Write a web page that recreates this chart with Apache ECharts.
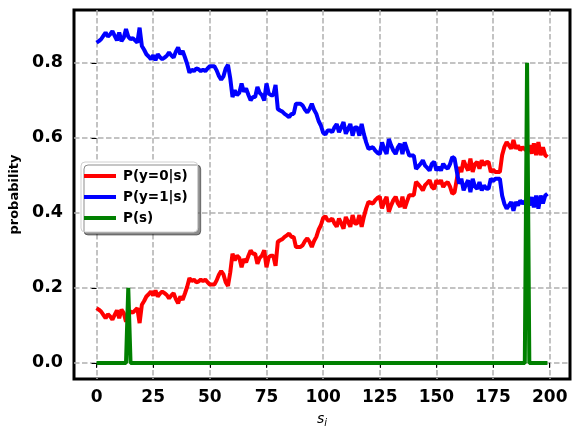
<!DOCTYPE html>
<html>
<head>
<meta charset="utf-8">
<script src="https://cdn.jsdelivr.net/npm/echarts@6/dist/echarts.min.js"></script>
<style>html,body{margin:0;padding:0;background:#fff}#c{width:579px;height:438px}</style>
</head>
<body>
<div id="c"></div>
<script>
const xTicks = [0, 25, 50, 75, 100, 125, 150, 175, 200];
const yTicks = [0.0, 0.2, 0.4, 0.6, 0.8];
const seriesNames = ['P(y=0|s)', 'P(y=1|s)', 'P(s)'];

const pY0 = [
  0.146,0.142,0.137,0.128,0.119,0.130,0.124,0.115,0.128,0.140,
  0.119,0.142,0.133,0.110,0.130,0.137,0.134,0.140,0.146,0.106,
  0.155,0.165,0.177,0.183,0.190,0.180,0.193,0.177,0.185,0.190,
  0.186,0.181,0.172,0.180,0.186,0.170,0.159,0.177,0.168,0.185,
  0.203,0.226,0.218,0.222,0.215,0.217,0.222,0.218,0.222,0.215,
  0.209,0.209,0.209,0.220,0.235,0.245,0.236,0.215,0.205,0.241,
  0.291,0.273,0.286,0.280,0.255,0.277,0.268,0.285,0.300,0.291,
  0.291,0.264,0.280,0.286,0.300,0.255,0.282,0.286,0.286,0.259,
  0.323,0.327,0.330,0.336,0.340,0.345,0.336,0.336,0.309,0.309,
  0.309,0.314,0.325,0.332,0.323,0.309,0.325,0.336,0.355,0.367,
  0.386,0.391,0.380,0.380,0.385,0.372,0.363,0.385,0.372,0.358,
  0.389,0.376,0.363,0.394,0.372,0.372,0.394,0.363,0.390,0.412,
  0.429,0.427,0.425,0.434,0.440,0.443,0.412,0.430,0.443,0.403,
  0.420,0.434,0.443,0.425,0.416,0.443,0.412,0.430,0.447,0.447,
  0.447,0.483,0.476,0.469,0.460,0.474,0.480,0.487,0.469,0.464,
  0.487,0.478,0.487,0.469,0.478,0.482,0.470,0.451,0.455,0.490,
  0.522,0.509,0.540,0.525,0.513,0.545,0.509,0.530,0.536,0.518,
  0.540,0.527,0.535,0.536,0.509,0.515,0.509,0.509,0.509,0.554,
  0.576,0.589,0.580,0.571,0.594,0.571,0.580,0.567,0.575,0.570,
  0.565,0.580,0.558,0.585,0.554,0.589,0.554,0.575,0.554,0.549
];

const pY1 = [
  0.854,0.858,0.863,0.872,0.881,0.870,0.876,0.885,0.872,0.860,
  0.881,0.858,0.867,0.890,0.870,0.863,0.866,0.860,0.854,0.894,
  0.845,0.835,0.823,0.817,0.810,0.820,0.807,0.823,0.815,0.810,
  0.814,0.819,0.828,0.820,0.814,0.830,0.841,0.823,0.832,0.815,
  0.797,0.774,0.782,0.778,0.785,0.783,0.778,0.782,0.778,0.785,
  0.791,0.791,0.791,0.780,0.765,0.755,0.764,0.785,0.795,0.759,
  0.709,0.727,0.714,0.720,0.745,0.723,0.732,0.715,0.700,0.709,
  0.709,0.736,0.720,0.714,0.700,0.745,0.718,0.714,0.714,0.741,
  0.677,0.673,0.670,0.664,0.660,0.655,0.664,0.664,0.691,0.691,
  0.691,0.686,0.675,0.668,0.677,0.691,0.675,0.664,0.645,0.633,
  0.614,0.609,0.620,0.620,0.615,0.628,0.637,0.615,0.628,0.642,
  0.611,0.624,0.637,0.606,0.628,0.628,0.606,0.637,0.610,0.588,
  0.571,0.573,0.575,0.566,0.560,0.557,0.588,0.570,0.557,0.597,
  0.580,0.566,0.557,0.575,0.584,0.557,0.588,0.570,0.553,0.553,
  0.553,0.517,0.524,0.531,0.540,0.526,0.520,0.513,0.531,0.536,
  0.513,0.522,0.513,0.531,0.522,0.518,0.530,0.549,0.545,0.510,
  0.478,0.491,0.460,0.475,0.487,0.455,0.491,0.470,0.464,0.482,
  0.460,0.473,0.465,0.464,0.491,0.485,0.491,0.491,0.491,0.446,
  0.424,0.411,0.420,0.429,0.406,0.429,0.420,0.433,0.425,0.430,
  0.435,0.420,0.442,0.415,0.446,0.411,0.446,0.425,0.446,0.451
];

// P(s): zero everywhere except two spikes
const pSIndex = [14, 190];
const pSValue = [0.2, 0.8];
const pSLength = 200;

const pS = [];
for (let i = 0; i < pSLength; i++) {
  const k = pSIndex.indexOf(i);
  pS.push([i, k >= 0 ? pSValue[k] : 0]);
}
const toPairs = arr => arr.map((v, i) => [i, v]);

const chart = echarts.init(document.getElementById('c'), null, {renderer: 'canvas'});
const FONT = 'DejaVu Sans';
const gridLine = {show: true, lineStyle: {color: '#b0b0b0', width: 1.5, type: [5.5, 2.5]}};
const LW = 4;

chart.setOption({
  animation: false,
  backgroundColor: '#fff',
  textStyle: {fontFamily: FONT},
  grid: {left: 74, top: 10, right: 9, bottom: 59, show: true, borderColor: '#000', borderWidth: 3, backgroundColor: 'transparent'},
  xAxis: {
    type: 'value', min: -9.95, max: 208.95,
    axisLine: {show: false},
    axisTick: {show: true, length: 5, customValues: xTicks, lineStyle: {color: '#000', width: 1}},
    axisLabel: {customValues: xTicks, margin: 10, color: '#000', fontFamily: FONT, fontWeight: 'bold', fontSize: 17},
    splitLine: gridLine,
    name: '{s|s}{i|i}', nameLocation: 'middle', nameGap: 31,
    nameTextStyle: {rich: {s: {fontStyle: 'italic', fontSize: 14, fontFamily: FONT, color: '#000'}, i: {fontStyle: 'italic', fontSize: 10, fontFamily: FONT, color: '#000', padding: [8, 0, 0, 0]}}}
  },
  yAxis: {
    type: 'value', min: -0.043, max: 0.941,
    axisLine: {show: false},
    axisTick: {show: true, length: 5, customValues: yTicks, lineStyle: {color: '#000', width: 1}},
    axisLabel: {customValues: yTicks, margin: 11, color: '#000', fontFamily: FONT, fontWeight: 'bold', fontSize: 17.5, formatter: v => v.toFixed(1)},
    splitLine: gridLine,
    name: 'probability', nameLocation: 'middle', nameGap: 52, nameRotate: 90,
    nameTextStyle: {color: '#000', fontFamily: FONT, fontWeight: 'bold', fontSize: 13}
  },
  legend: {
    orient: 'vertical', left: 81, top: 162,
    data: seriesNames,
    icon: 'rect',
    itemWidth: 32, itemHeight: 4, itemGap: 5,
    padding: [6, 10, 6, 3],
    backgroundColor: '#fff', borderColor: '#d0d0d0', borderWidth: 1, borderRadius: 4,
    shadowColor: 'rgba(0,0,0,0.45)', shadowBlur: 0, shadowOffsetX: 3, shadowOffsetY: 3,
    textStyle: {color: '#000', fontFamily: FONT, fontWeight: 'bold', fontSize: 13.5, lineHeight: 16, padding: [0, 0, 0, 2]}
  },
  series: [
    {name: seriesNames[0], type: 'line', data: toPairs(pY0), symbol: 'none', lineStyle: {color: '#ff0000', width: LW}, itemStyle: {color: '#ff0000'}, z: 2},
    {name: seriesNames[1], type: 'line', data: toPairs(pY1), symbol: 'none', lineStyle: {color: '#0000ff', width: LW}, itemStyle: {color: '#0000ff'}, z: 3},
    {name: seriesNames[2], type: 'line', data: pS, symbol: 'none', lineStyle: {color: '#008000', width: LW}, itemStyle: {color: '#008000'}, z: 4}
  ]
});
</script>
</body>
</html>
